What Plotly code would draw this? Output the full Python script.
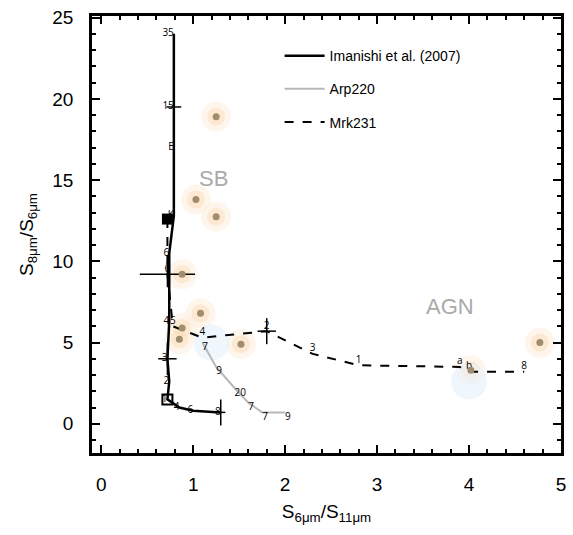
import plotly.graph_objects as go

# --- data ---
model_x = [0.79, 0.79, 0.79, 0.79, 0.74, 0.74, 0.72, 0.74, 0.72, 0.85, 1.0, 1.3]
model_y = [24.0, 19.5, 17.0, 12.8, 10.5, 6.3, 4.0, 2.6, 1.5, 1.0, 0.8, 0.7]
model_lab = ["35", "15", "E", "K", "6", "4", "3", "2", "1", "4", "6", "8"]

arp_x = [1.1, 1.25, 1.45, 1.6, 1.75, 2.0]
arp_y = [5.0, 3.5, 2.2, 1.3, 0.7, 0.7]
arp_lab = ["7", "9", "20", "7", "7", "9"]

mrk_x = [0.72, 0.72, 0.78, 1.1, 1.8, 2.3, 2.8, 3.9, 4.0, 4.6]
mrk_y = [12.6, 9.2, 6.0, 5.3, 5.7, 4.3, 3.6, 3.5, 3.2, 3.2]
mrk_lab_x = [0.72, 0.78, 1.1, 1.8, 2.3, 2.8, 3.9, 4.0, 4.6]
mrk_lab_y = [9.2, 6.0, 5.3, 5.7, 4.3, 3.6, 3.5, 3.2, 3.2]
mrk_lab = ["6", "5", "4", "2", "3", "1", "a", "b", "8"]

obs_x = [1.25, 1.03, 1.25, 0.88, 1.08, 0.88, 0.85, 1.52, 4.02, 4.77]
obs_y = [18.9, 13.8, 12.75, 9.2, 6.8, 5.9, 5.2, 4.9, 3.3, 5.0]

err_x = [0.79, 0.72, 0.72, 1.8, 1.3]
err_y = [19.5, 9.2, 4.0, 5.7, 0.7]
err_dx = [0.08, 0.3, 0.1, 0.1, 0.05]
err_dy = [0.4, 0.8, 1.0, 0.8, 0.8]

fig = go.Figure()

# soft glows around observed points
fig.add_trace(go.Scatter(x=obs_x, y=obs_y, mode="markers", showlegend=False,
                         marker=dict(size=30, color="#fdeedb", opacity=0.5, line=dict(width=0)),
                         hoverinfo="skip"))
fig.add_trace(go.Scatter(x=obs_x, y=obs_y, mode="markers", showlegend=False,
                         marker=dict(size=18, color="#fbdcb6", opacity=0.5, line=dict(width=0)),
                         hoverinfo="skip"))
fig.add_trace(go.Scatter(x=[1.2, 4.0], y=[5.0, 2.6], mode="markers", showlegend=False,
                         marker=dict(size=36, color="#e6f1fa", opacity=0.6, line=dict(width=0)),
                         hoverinfo="skip"))

fig.add_trace(go.Scatter(x=model_x, y=model_y, mode="lines", name="Imanishi et al. (2007)",
                         legendgroup="a", line=dict(color="black", width=2.5)))
fig.add_trace(go.Scatter(x=arp_x, y=arp_y, mode="lines", name="Arp220", legendgroup="b",
                         line=dict(color="#b8b8b8", width=2)))
fig.add_trace(go.Scatter(x=mrk_x, y=mrk_y, mode="lines", name="Mrk231", legendgroup="c",
                         line=dict(color="black", width=2, dash="dash")))

# point labels
fig.add_trace(go.Scatter(x=model_x, y=model_y, mode="text", text=model_lab, showlegend=False,
                         textposition="middle left", textfont=dict(size=10, color="black")))
fig.add_trace(go.Scatter(x=arp_x, y=arp_y, mode="text", text=arp_lab, showlegend=False,
                         textposition="bottom right", textfont=dict(size=10, color="black")))
fig.add_trace(go.Scatter(x=mrk_lab_x, y=mrk_lab_y, mode="text", text=mrk_lab, showlegend=False,
                         textposition="top center", textfont=dict(size=10, color="black")))

fig.add_trace(go.Scatter(x=err_x, y=err_y, mode="markers", showlegend=False,
                         marker=dict(size=1, color="black"),
                         error_x=dict(type="data", array=err_dx, color="black", thickness=1.5, width=0),
                         error_y=dict(type="data", array=err_dy, color="black", thickness=1.5, width=0)))

fig.add_trace(go.Scatter(x=obs_x, y=obs_y, mode="markers", showlegend=False,
                         marker=dict(size=7, color="#a08c6e", line=dict(width=0))))

fig.add_trace(go.Scatter(x=[0.72], y=[12.6], mode="markers", showlegend=False,
                         marker=dict(symbol="square", size=11, color="black")))
fig.add_trace(go.Scatter(x=[0.72], y=[1.5], mode="markers", showlegend=False,
                         marker=dict(symbol="square-open", size=10, color="black", line=dict(width=2))))

fig.add_annotation(x=1.22, y=15.1, text="SB", showarrow=False,
                   font=dict(size=22, color="#aaaaaa", family="Liberation Sans"))
fig.add_annotation(x=3.79, y=7.2, text="AGN", showarrow=False,
                   font=dict(size=22, color="#aaaaaa", family="Liberation Sans"))

axis_common = dict(showline=True, linecolor="black", linewidth=2.5, mirror="ticks",
                   ticks="inside", ticklen=8, tickwidth=2, tickcolor="black",
                   showgrid=False, zeroline=False, ticklabelstandoff=12,
                   tickfont=dict(size=19, color="black", family="Liberation Sans"))

fig.update_xaxes(range=[-0.1, 5.0], tick0=0, dtick=1,
                 minor=dict(ticks="inside", ticklen=4, dtick=0.2, tickcolor="black", tickwidth=1.5),
                 title=dict(text="S<sub>6μm</sub>/S<sub>11μm</sub>", font=dict(size=19, family="Liberation Sans", color="black"), standoff=12),
                 **axis_common)
fig.update_yaxes(range=[-1.8, 25.1], tick0=0, dtick=5,
                 minor=dict(ticks="inside", ticklen=4, dtick=1, tickcolor="black", tickwidth=1.5),
                 title=dict(text="S<sub>8μm</sub>/S<sub>6μm</sub>", font=dict(size=19, family="Liberation Sans", color="black"), standoff=14),
                 **axis_common)

fig.update_layout(width=573, height=535, margin=dict(l=92, r=7, t=8, b=82),
                  plot_bgcolor="white", paper_bgcolor="white",
                  legend=dict(x=0.4, y=0.945, xanchor="left", yanchor="top",
                              bgcolor="rgba(0,0,0,0)", font=dict(size=14, family="Liberation Sans", color="black"),
                              itemwidth=40, tracegroupgap=12))

fig.write_html("out.html")
